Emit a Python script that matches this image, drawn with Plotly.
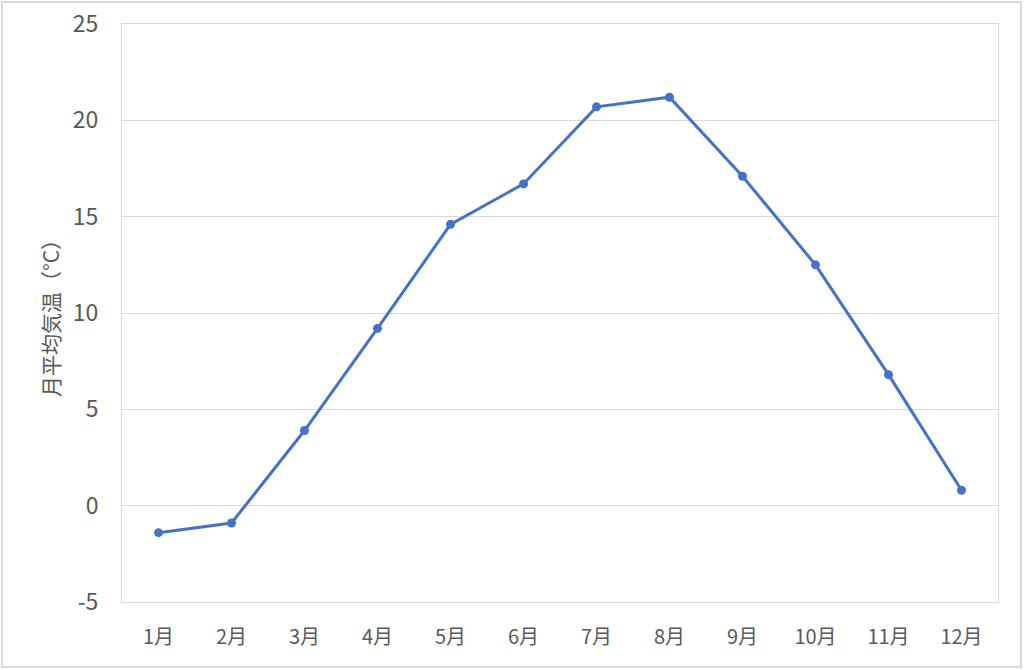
import plotly.graph_objects as go

months = ["1月", "2月", "3月", "4月", "5月", "6月", "7月", "8月", "9月", "10月", "11月", "12月"]
temps = [-1.4, -0.9, 3.9, 9.2, 14.6, 16.7, 20.7, 21.2, 17.1, 12.5, 6.8, 0.8]
y_ticks = [-5, 0, 5, 10, 15, 20, 25]
y_labels = ["-5", "0", "5", "10", "15", "20", "25"]

FONT = "Noto Sans CJK JP"
GRAY = "#595959"

fig = go.Figure()
fig.add_trace(go.Scatter(
    x=months, y=temps, mode="lines+markers",
    line=dict(color="#4472C4", width=3),
    marker=dict(color="#4472C4", size=9),
    showlegend=False,
))

W, H = 1024, 670
L, R, T, B = 122, 26, 24, 68
pw, ph = W - L - R, H - T - B

fig.update_layout(
    width=W, height=H,
    margin=dict(l=L, r=R, t=T, b=B),
    paper_bgcolor="white", plot_bgcolor="white",
    font=dict(family=FONT, color=GRAY, size=21),
    xaxis=dict(
        automargin=False,
        showgrid=False, showline=True, linecolor="#d9d9d9", linewidth=1, mirror=True,
        ticks="", tickfont=dict(size=20, color=GRAY), ticklabelstandoff=17,
        range=[-0.5, 11.5],
    ),
    yaxis=dict(
        automargin=False,
        range=[-5, 25], tickvals=y_ticks, ticktext=y_labels,
        showgrid=True, gridcolor="#d9d9d9", gridwidth=1,
        showline=True, linecolor="#d9d9d9", linewidth=1, mirror=True,
        zeroline=False, ticks="", tickfont=dict(size=23, color=GRAY), ticklabelstandoff=18,
        title=dict(text="月平均気温（°C）", font=dict(size=21, color=GRAY), standoff=7),
    ),
)

# outer frame
x0 = (2 - L) / pw
x1 = (W - 3 - L) / pw
y1 = (H - B - 2) / ph
y0 = (H - B - (H - 3)) / ph
fig.add_shape(type="rect", xref="paper", yref="paper", x0=x0, x1=x1, y0=y0, y1=y1,
              line=dict(color="#d9d9d9", width=2), layer="below")

fig.write_html("out.html", config={"displayModeBar": False},
               post_script="document.body.style.margin='0';document.body.style.overflow='hidden';")
